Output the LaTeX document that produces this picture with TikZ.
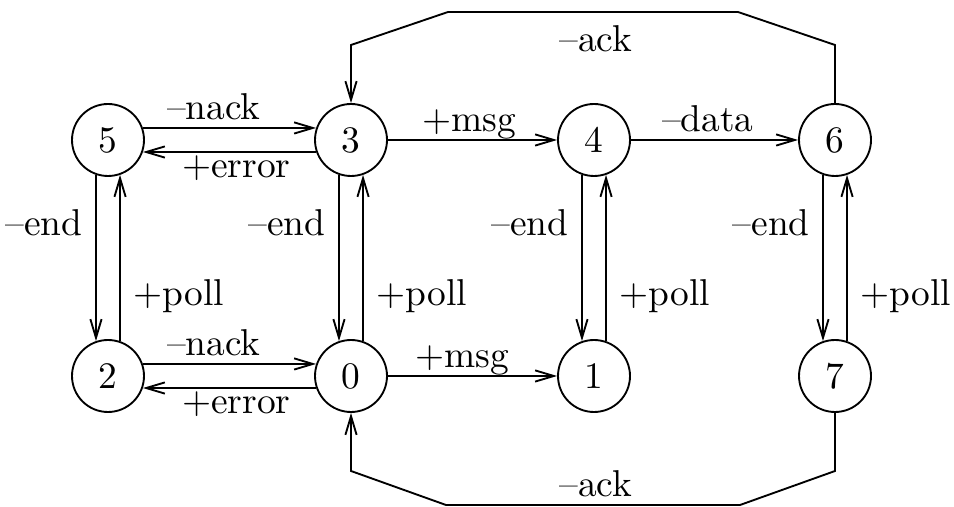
\documentclass[tikz,border=0pt]{standalone}
\usetikzlibrary{arrows.meta}
\begin{document}
\begin{tikzpicture}[x=0.2674pt, y=-0.2674pt,
  stnode/.style={circle, draw, line width=0.5pt, minimum size=19.25pt, inner sep=0pt},
  link/.style={draw, line width=0.5pt, -{Straight Barb[length=5pt,width=3pt]}},
  abv/.style={anchor=base, yshift=2.3pt},
  blw/.style={anchor=base, yshift=-6.9pt}]
\useasboundingbox (0,0) rectangle (954,507);

% states
\node[stnode] (n5) at (108,140) {5};
\node[stnode] (n3) at (351,140) {3};
\node[stnode] (n4) at (594,140) {4};
\node[stnode] (n6) at (835,140) {6};
\node[stnode] (n2) at (108,376) {2};
\node[stnode] (n0) at (351,376) {0};
\node[stnode] (n1) at (594,376) {1};
\node[stnode] (n7) at (835,376) {7};

% bends of the long ack routes
\coordinate (ta) at (835,45);
\coordinate (tb) at (738,12);
\coordinate (tc) at (448,12);
\coordinate (td) at (351,45);
\coordinate (ba) at (835,471);
\coordinate (bb) at (740,505);
\coordinate (bc) at (446,505);
\coordinate (bd) at (351,471);

% horizontal pairs
\draw[link] (n5.19) -- node[abv, pos=0.41] {--nack} (n3.161);
\draw[link] (n3.199) -- node[blw, pos=0.46] {+error} (n5.-19);
\draw[link] (n2.19) -- node[abv, pos=0.41] {--nack} (n0.161);
\draw[link] (n0.199) -- node[blw, pos=0.46] {+error} (n2.-19);

% single horizontal transitions
\draw[link] (n3) -- node[abv, pos=0.48] {+msg} (n4);
\draw[link] (n4) -- node[abv, pos=0.46] {--data} (n6);
\draw[link] (n0) -- node[abv, pos=0.44] {+msg} (n1);

% vertical pairs
\foreach \u/\d in {n5/n2, n3/n0, n4/n1, n6/n7} {
  \draw[link] (\u.-109) -- node[left, pos=0.29] {--end} (\d.109);
  \draw[link] (\d.71) -- node[right, pos=0.27] {+poll} (\u.-71);
}

% long routes
\draw[link] (n6.north) -- (ta) -- (tb) -- node[below, pos=0.49] {--ack} (tc) -- (td) -- (n3.north);
\draw[link] (n7.south) -- (ba) -- (bb) -- node[abv, pos=0.49] {--ack} (bc) -- (bd) -- (n0.south);
\end{tikzpicture}
\end{document}
